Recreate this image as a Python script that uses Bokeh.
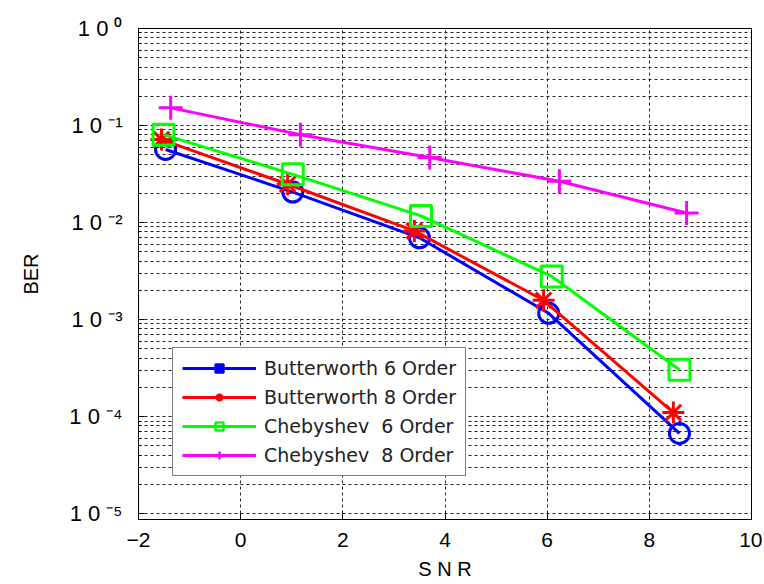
import math
from bokeh.plotting import figure
from bokeh.models import (Range1d, Legend, LegendItem, ColumnDataSource,
                          CustomJSTickFormatter, FixedTicker)
from bokeh.embed import file_html
from bokeh.resources import INLINE

# ---- data ----
snr_b6 = [-1.47, 1.02, 3.5, 6.03, 8.59]
ber_b6 = [0.0566, 0.0206, 0.00696, 0.00116, 6.7e-5]
snr_b8 = [-1.55, 0.92, 3.4, 5.93, 8.47]
ber_b8 = [0.0716, 0.0248, 0.0082, 0.00158, 1.1e-4]
snr_c6 = [-1.51, 1.02, 3.53, 6.09, 8.59]
ber_c6 = [0.0805, 0.0314, 0.0117, 0.00278, 3.04e-4]
snr_c8 = [-1.37, 1.17, 3.7, 6.24, 8.73]
ber_c8 = [0.152, 0.0805, 0.0468, 0.0266, 0.01253]

series_labels = ["Butterworth 6 Order", "Butterworth 8 Order",
                 "Chebyshev  6 Order", "Chebyshev  8 Order"]
x_ticks = [-2, 0, 2, 4, 6, 8, 10]
y_decades = [1e0, 1e-1, 1e-2, 1e-3, 1e-4, 1e-5]
y_exponents = ["0", "-1", "-2", "-3", "-4", "-5"]

SUP = str.maketrans("0123456789-", "⁰¹²³⁴⁵⁶⁷⁸⁹⁻")
y_tick_labels = ["1 0 " + e.translate(SUP) for e in y_exponents]

FONT = "Liberation Sans Narrow, Liberation Sans, Arial, sans-serif"
LFONT = "DejaVu Sans, sans-serif"

p = figure(width=762, height=582, y_axis_type="log",
           x_range=Range1d(-2, 10), y_range=Range1d(10 ** -5.061, 1.0),
           output_backend="svg", toolbar_location=None,
           min_border_left=138, min_border_right=11, min_border_top=28,
           min_border_bottom=59)
p.outline_line_color = "black"
p.outline_line_width = 1
p.background_fill_color = "white"

# axes
p.xaxis.ticker = FixedTicker(ticks=x_ticks)
minor_y = [k * d for d in y_decades[1:] for k in range(2, 10)]
p.yaxis.ticker = FixedTicker(ticks=y_decades, minor_ticks=minor_y)
p.yaxis.formatter = CustomJSTickFormatter(
    args=dict(labels=y_tick_labels, decades=y_decades),
    code="""
        let best = 0, bd = Infinity;
        for (let i = 0; i < decades.length; i++) {
            const d = Math.abs(Math.log10(tick) - Math.log10(decades[i]));
            if (d < bd) { bd = d; best = i; }
        }
        return labels[best];
    """)

for ax in (p.xaxis[0], p.yaxis[0]):
    ax.axis_line_color = "black"
    ax.major_tick_in = 6
    ax.major_tick_out = 0
    ax.minor_tick_in = 3
    ax.minor_tick_out = 0
    ax.major_label_text_font = FONT
    ax.major_label_text_color = "black"
    ax.axis_label_text_font = FONT
    ax.axis_label_text_font_style = "normal"
    ax.axis_label_text_color = "black"

p.xaxis.major_label_text_font_size = "21px"
p.xaxis.major_label_standoff = 13
p.xaxis.axis_label = "S N R"
p.xaxis.axis_label_text_font_size = "20px"
p.xaxis.axis_label_standoff = 8
p.xaxis.minor_tick_line_color = None

p.yaxis.major_label_text_font_size = "22px"
p.yaxis.major_label_standoff = 16
p.yaxis.axis_label = "BER"
p.yaxis.axis_label_text_font_size = "20px"
p.yaxis.axis_label_standoff = 24

# grid
p.xgrid.grid_line_color = "#222222"
p.xgrid.grid_line_dash = "3 3"
p.xgrid.grid_line_width = 1
p.ygrid.grid_line_color = "#222222"
p.ygrid.grid_line_dash = "3 3"
p.ygrid.minor_grid_line_color = "#222222"
p.ygrid.minor_grid_line_dash = "3 3"

# ---- series ----
LW = 3
p.line(snr_b6, ber_b6, line_color="blue", line_width=LW)
p.scatter(snr_b6, ber_b6, marker="circle", size=20, fill_color=None,
          line_color="blue", line_width=LW)
p.line(snr_b8, ber_b8, line_color="red", line_width=LW)
p.scatter(snr_b8, ber_b8, marker="asterisk", size=22,
          line_color="red", line_width=LW)
p.line(snr_c6, ber_c6, line_color="#00ff00", line_width=LW)
p.scatter(snr_c6, ber_c6, marker="square", size=21, fill_color=None,
          line_color="#00ff00", line_width=LW)
p.line(snr_c8, ber_c8, line_color="magenta", line_width=LW)
p.scatter(snr_c8, ber_c8, marker="cross", size=24,
          line_color="magenta", line_width=LW)

# ---- legend (separate glyph styles like the original) ----
nan_src = ColumnDataSource(dict(x=[float("nan")], y=[float("nan")]))
leg_specs = [
    ("blue", "square", 7, "blue"),
    ("red", "asterisk", 11, "red"),
    ("#00ff00", "square", 14, None),
    ("magenta", "cross", 15, "magenta"),
]
items = []
for lab, (col, mk, sz, fill) in zip(series_labels, leg_specs):
    lr = p.line("x", "y", source=nan_src, line_color=col, line_width=LW)
    sr = p.scatter("x", "y", source=nan_src, marker=mk, size=sz,
                   line_color=col, fill_color=fill, line_width=2.5)
    items.append(LegendItem(label=lab, renderers=[lr, sr]))

legend = Legend(items=items, location=(34, 43), glyph_width=74,
                glyph_height=20, label_height=20, spacing=7, padding=9,
                label_standoff=8, label_text_font=LFONT,
                label_text_font_size="19px", label_text_color="#222222",
                border_line_color="black", border_line_width=1,
                background_fill_color="white", background_fill_alpha=1.0,
                margin=0)
p.add_layout(legend, "center")

open("out.html", "w").write(file_html(p, INLINE))
